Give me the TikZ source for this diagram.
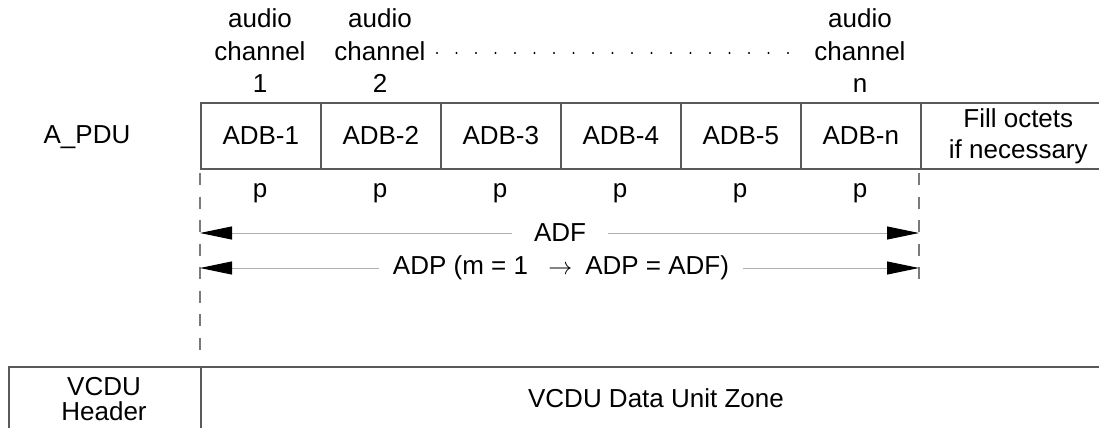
\documentclass[tikz,border=0pt]{standalone}
\usepackage{fontspec}
\setmainfont{Liberation Sans}
\usetikzlibrary{arrows.meta}
\definecolor{boxcol}{HTML}{5A5A5A}
\definecolor{dashcol}{HTML}{7A7A7A}
\definecolor{dimcol}{HTML}{B0B0B0}
\begin{document}
\begin{tikzpicture}[x=0.5pt,y=-0.5pt,
  font=\fontsize{13}{16.25}\selectfont,
  cell/.style={draw=boxcol, line width=0.8pt, minimum width=60pt, minimum height=33pt, inner sep=0pt, anchor=north west},
  chan/.style={align=center, inner sep=0pt},
  plabel/.style={anchor=base, inner sep=0pt},
  dashline/.style={draw=dashcol, line width=0.85pt, dash pattern=on 6pt off 5.75pt},
  dimline/.style={draw=dimcol, line width=0.5pt, {Triangle[length=16pt,width=6.5pt,color=black]}-{Triangle[length=16pt,width=6.5pt,color=black]}},
  dimlabel/.style={fill=white, inner ysep=1pt}
]
\useasboundingbox (0,0) rectangle (1099,428);
\clip (0,0) rectangle (1099,428);

% channel labels
\node[chan] (ch1) at (260,51) {audio\\channel\\1};
\node[chan] (ch2) at (380,51) {audio\\channel\\2};
\node[chan] (chn) at (860,51) {audio\\channel\\n};
\foreach \i in {0,...,18} \fill (437+\i*19.5,53) circle (0.6pt);

% A_PDU row
\node[anchor=base, inner sep=0pt] (apdu) at (87,143) {A\_PDU};
\node[cell] (adb1) at (200,102) {ADB-1};
\node[cell] (adb2) at (320,102) {ADB-2};
\node[cell] (adb3) at (440,102) {ADB-3};
\node[cell] (adb4) at (560,102) {ADB-4};
\node[cell] (adb5) at (680,102) {ADB-5};
\node[cell] (adbn) at (800,102) {ADB-n};
\node[cell, minimum width=97.5pt, align=center, font=\fontsize{13}{15.5}\selectfont] (fill) at (920,102) {Fill octets\\if necessary};

% p labels
\foreach \n/\x in {1/260,2/380,3/500,4/620,5/740,n/860}
  \node[plabel] (p\n) at (\x,197) {p};

% dashed extension lines
\coordinate (dl0) at (200,173);
\coordinate (dl1) at (200,352);
\coordinate (dr0) at (919,173);
\coordinate (dr1) at (919,282);
\draw[dashline] (dl0) -- (dl1);
\draw[dashline] (dr0) -- (dr1);

% dimension arrows
\coordinate (adfL) at (200,233);
\coordinate (adfR) at (919,233);
\coordinate (adpL) at (200,268);
\coordinate (adpR) at (919,268);
\draw[dimline] (adfL) -- (adfR);
\draw[dimline] (adpL) -- (adpR);
\node[dimlabel, inner xsep=11pt] (adf) at (560,233) {ADF};
\node[dimlabel, inner xsep=7pt] (adp) at (561,268) {ADP (m = 1 \enspace$\rightarrow$\enspace ADP = ADF)};

% VCDU row
\node[cell, minimum width=96pt, minimum height=40pt] (vhdr) at (8,366) {};
\node[cell, minimum width=457.5pt, minimum height=40pt] (vzone) at (200,366) {};
\node[anchor=base, align=center, inner sep=0pt, font=\fontsize{13}{12.5}\selectfont] (vhdrtxt) at (104,420) {VCDU\\Header};
\node[anchor=base, inner sep=0pt] (vzonetxt) at (656,407) {VCDU Data Unit Zone};
\end{tikzpicture}
\end{document}
